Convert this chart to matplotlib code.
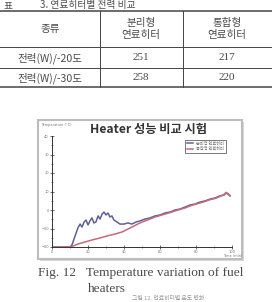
import matplotlib.pyplot as plt
from matplotlib.patches import Rectangle
from matplotlib.lines import Line2D

# ---- data ----
table_header = ["종류", "분리형\n연료히터", "통합형\n연료히터"]
row_labels = ["전력(W)/-20도", "전력(W)/-30도"]
separate_power = [251, 258]
integrated_power = [217, 220]

x_ticks = [0, 20, 40, 60, 80, 100]
y_ticks = [-20, -10, 0, 10, 20, 30, 40]

# separate heater (blue)
sep_t = [0, 10, 11.1, 12.8, 14.4, 15.6, 16.7, 17.8, 18.9, 20.0, 21.1, 22.2, 23.3, 24.4,
         25.6, 26.7, 27.8, 28.9, 30.0, 31.1, 32.2, 33.3, 34.4, 36.1, 37.8, 40.0, 42.2,
         44.4, 46.7, 48.9, 51.7, 54.4, 57.2, 60.0, 62.8, 65.6, 68.3, 71.1, 73.9, 76.7,
         79.4, 82.2, 85.0, 87.8, 90.6, 93.3, 95.6, 96.7, 97.8, 98.9]
sep_temp = [-20, -20, -18.9, -14.1, -9.7, -7.6, -9.2, -6.5, -5.4, -8.1, -5.9, -4.3, -7.0,
            -6.5, -3.2, -4.9, -2.2, -1.1, -2.7, -1.6, -3.8, -3.2, -5.4, -6.5, -7.6, -7.6,
            -7.0, -7.6, -6.5, -5.9, -4.9, -4.3, -3.2, -2.7, -1.6, -1.1, 0.0, 0.5, 1.6,
            2.7, 3.2, 4.3, 4.9, 5.9, 6.5, 7.6, 8.1, 9.2, 8.6, 7.6]

# integrated heater (red)
int_t = [0, 10, 11.7, 14.4, 18.3, 22.2, 26.7, 31.1, 35.0, 38.9, 42.2, 45.6, 48.9, 51.7,
         54.4, 57.2, 60.0, 62.8, 65.6, 68.3, 71.1, 73.9, 76.7, 79.4, 82.2, 85.0, 87.8,
         90.6, 93.3, 95.6, 96.7, 97.8, 98.9]
int_temp = [-20, -20, -19.5, -18.4, -17.3, -16.2, -15.1, -13.9, -13.0, -11.9, -10.3, -8.6,
            -7.0, -5.9, -4.9, -3.8, -3.0, -2.2, -1.4, -0.5, 0.3, 1.1, 2.2, 3.0, 3.8, 4.6,
            5.6, 6.2, 7.3, 8.4, 9.5, 8.9, 7.8]

W, H = 272, 302
fig = plt.figure(figsize=(W / 100, H / 100), dpi=100)
fig.patch.set_facecolor("white")

def fx(x):
    return x / W

def fy(y):
    return 1 - y / H

kfont = ["Noto Sans CJK KR", "DejaVu Sans"]
txt_col = "#4a4a4a"

# ---- table caption (sits right at the top of the scan) ----
fig.text(fx(8), fy(5), "표", fontsize=7, family=kfont, color=txt_col, ha="center", va="center")
fig.text(fx(40), fy(5), "3. 연료히터별 전력 비교", fontsize=7, family=kfont, color=txt_col,
         ha="left", va="center")

# ---- table ----
for y, lw in [(11, 1.1), (47, 0.7), (68, 0.7), (87, 1.1)]:
    fig.add_artist(Line2D([0, 1], [fy(y), fy(y)], color="#444", lw=lw))
for x in [100, 183]:
    fig.add_artist(Line2D([fx(x), fx(x)], [fy(11), fy(87)], color="#444", lw=0.7))

col_x = [50, 141, 227]
for cx, h in zip(col_x, table_header):
    fig.text(fx(cx), fy(29), h, fontsize=7.6, family=kfont, color=txt_col, ha="center",
             va="center", linespacing=1.3)
for ry, lab, a, b in zip([58, 78], row_labels, separate_power, integrated_power):
    fig.text(fx(col_x[0]), fy(ry), lab, fontsize=7.6, family=kfont, color=txt_col,
             ha="center", va="center")
    fig.text(fx(col_x[1]), fy(ry), str(a), fontsize=8, family="Liberation Serif",
             color=txt_col, ha="center", va="center")
    fig.text(fx(col_x[2]), fy(ry), str(b), fontsize=8, family="Liberation Serif",
             color=txt_col, ha="center", va="center")

# ---- embedded chart image frame ----
fig.add_artist(Rectangle((fx(40), fy(261)), fx(204), 139 / H, facecolor="#d8d8d8",
                         edgecolor="none", zorder=-2))
fig.add_artist(Rectangle((fx(38), fy(259)), fx(204), 139 / H, facecolor="white",
                         edgecolor="#bdbdbd", lw=1.5, zorder=-1))

ax = fig.add_axes([fx(52), fy(247), (232 - 52) / W, (247 - 136) / H])
ax.set_facecolor("none")
ax.plot(sep_t, sep_temp, color="#5f6098", lw=1.1, label="분리형 연료히터")
ax.plot(int_t, int_temp, color="#c46a7c", lw=1.1, label="통합형 연료히터")
ax.set_xlim(0, 100)
ax.set_ylim(-20, 40)
ax.set_xticks(x_ticks)
ax.set_yticks(y_ticks)
ax.set_xticks([10, 30, 50, 70, 90], minor=True)
ax.set_yticks([-15, -5, 5, 15, 25, 35], minor=True)
ax.tick_params(labelsize=2.6, labelcolor="#777", width=0.5, length=2.5, direction="inout",
               color="#333", pad=1)
ax.tick_params(which="minor", width=0.4, length=1.5, direction="inout", color="#333")
for s in ["top", "right"]:
    ax.spines[s].set_visible(False)
for s in ["left", "bottom"]:
    ax.spines[s].set_linewidth(0.7)
    ax.spines[s].set_color("#333")

fig.text(fx(148), fy(129), "Heater 성능 비교 시험", fontsize=8.8, family=kfont,
         weight="bold", color="#333", ha="center", va="center")
fig.text(fx(41), fy(125), "Temperature (°C)", fontsize=2.5, color="#777", ha="left",
         va="center")
fig.text(fx(233), fy(256), "Time (min)", fontsize=2.5, color="#777", ha="center",
         va="center")

leg = ax.legend(loc="upper left", bbox_to_anchor=(fx(183), fy(138)),
                bbox_transform=fig.transFigure, handlelength=1.4,
                borderpad=0.4, labelspacing=0.3, fancybox=False, framealpha=1,
                prop={"family": kfont, "size": 3})
leg.get_frame().set_edgecolor("#444")
leg.get_frame().set_linewidth(0.5)
for t in leg.get_texts():
    t.set_color("#777")

# ---- figure caption ----
fig.text(fx(38), fy(273), "Fig. 12   Temperature variation of fuel", fontsize=9.6,
         family="Liberation Serif", color=txt_col, ha="left", va="center")
fig.text(fx(88), fy(289), "heaters", fontsize=9.6, family="Liberation Serif",
         color=txt_col, ha="left", va="center")
fig.text(fx(132), fy(298.5), "그림 12. 연료히터별 온도 변화", fontsize=4.2, family=kfont,
         color="#999", ha="left", va="center")

fig.savefig("out.png", dpi=100, facecolor="white")
